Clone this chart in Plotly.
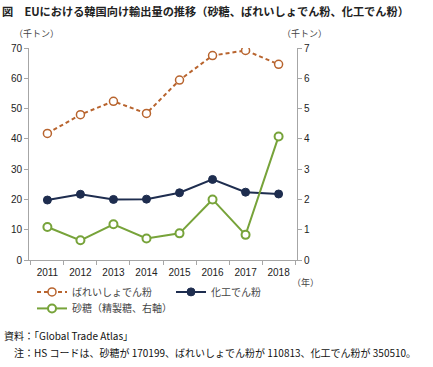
import plotly.graph_objects as go

years = ["2011", "2012", "2013", "2014", "2015", "2016", "2017", "2018"]
potato_starch = [41.8, 48.0, 52.4, 48.4, 59.4, 67.5, 69.2, 64.6]
modified_starch = [19.8, 21.7, 20.0, 20.1, 22.2, 26.6, 22.4, 21.8]
sugar = [1.09, 0.65, 1.18, 0.71, 0.88, 2.0, 0.83, 4.08]

name_potato = "ばれいしょでん粉"
name_modified = "化工でん粉"
name_sugar = "砂糖（精製糖、右軸）"

ORANGE = "#B8642E"
NAVY = "#1E2D4F"
GREEN = "#77A33A"
FONT = "Liberation Sans, Arial, Noto Sans CJK JP, sans-serif"
JFONT = "Noto Sans CJK JP, sans-serif"

fig = go.Figure()
fig.add_trace(go.Scatter(
    x=years, y=potato_starch, name=name_potato, mode="lines+markers",
    line=dict(color=ORANGE, width=2, dash="4px,3px"),
    marker=dict(symbol="circle", size=8, color="white", line=dict(color=ORANGE, width=1.5)),
    legend="legend"))
fig.add_trace(go.Scatter(
    x=years, y=modified_starch, name=name_modified, mode="lines+markers",
    line=dict(color=NAVY, width=2),
    marker=dict(symbol="circle", size=8, color=NAVY, line=dict(color=NAVY, width=1)),
    legend="legend3"))
fig.add_trace(go.Scatter(
    x=years, y=sugar, name=name_sugar, mode="lines+markers", yaxis="y2",
    line=dict(color=GREEN, width=2),
    marker=dict(symbol="circle", size=8, color="white", line=dict(color=GREEN, width=2)),
    legend="legend2"))

axis_common = dict(showgrid=False, zeroline=False, showline=True, linecolor="#A6A6A6",
                   linewidth=1, ticks="outside", ticklen=4, tickcolor="#A6A6A6",
                   tickfont=dict(family=FONT, size=10, color="#222"))

legend_common = dict(orientation="h", xanchor="left", yanchor="top",
                     font=dict(family=JFONT, size=10, color="#444"), itemwidth=30,
                     bgcolor="rgba(0,0,0,0)")

fig.update_layout(
    width=433, height=367,
    margin=dict(l=29, r=136, t=48, b=107, autoexpand=False),
    paper_bgcolor="white", plot_bgcolor="white",
    showlegend=True,
    xaxis=dict(**axis_common, tickson="boundaries", type="category", ticklabelstandoff=3),
    yaxis=dict(**axis_common, range=[0, 70], dtick=10),
    yaxis2=dict(**axis_common, range=[0, 7], dtick=1, overlaying="y", side="right"),
    legend=dict(**legend_common, x=3/268, y=-0.082),
    legend3=dict(**legend_common, x=142/268, y=-0.082),
    legend2=dict(**legend_common, x=3/268, y=-0.160),
    annotations=[
        dict(text="<b>図　EUにおける韓国向け輸出量の推移（砂糖、ばれいしょでん粉、化工でん粉）</b>",
             xref="paper", yref="paper", x=-29/268, y=1+48/212, xanchor="left", yanchor="top",
             yshift=-1, showarrow=False, font=dict(family=JFONT, size=11.2, color="#222")),
        dict(text="（千トン）", xref="paper", yref="paper", x=-17/268, y=1+14/212,
             xanchor="left", yanchor="middle", showarrow=False,
             font=dict(family=JFONT, size=9, color="#444")),
        dict(text="（千トン）", xref="paper", yref="paper", x=(280-29)/268, y=1+14/212,
             xanchor="left", yanchor="middle", showarrow=False,
             font=dict(family=JFONT, size=9, color="#444")),
        dict(text="（年）", xref="paper", yref="paper", x=(290-29)/268, y=-22/212,
             xanchor="left", yanchor="middle", showarrow=False,
             font=dict(family=JFONT, size=9, color="#444")),
        dict(text="資料：「Global Trade Atlas」", xref="paper", yref="paper",
             x=-27/268, y=-(335-260)/212, xanchor="left", yanchor="middle", showarrow=False,
             font=dict(family=JFONT, size=10, color="#111")),
        dict(text="注：HS コードは、砂糖が 170199、ばれいしょでん粉が 110813、化工でん粉が 350510。",
             xref="paper", yref="paper", x=-17/268, y=-(352-260)/212, xanchor="left",
             yanchor="middle", showarrow=False,
             font=dict(family=JFONT, size=10, color="#111")),
    ],
)

fig.write_html("out.html", config={"displayModeBar": False},
               post_script="document.body.style.margin='0';")
